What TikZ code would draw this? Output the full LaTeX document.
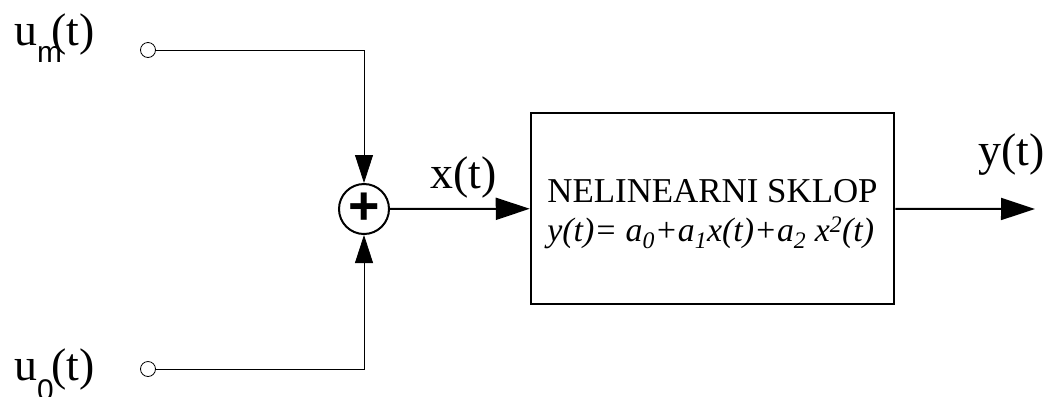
\documentclass[tikz,border=0pt]{standalone}
\usepackage{fontspec}
\setmainfont{Liberation Serif}
\newfontfamily\subsans{Liberation Sans}
\usetikzlibrary{arrows.meta}

\begin{document}
\begin{tikzpicture}[x=1bp,y=-1bp,
  wire/.style={black, line width=0.8bp},
  thick wire/.style={black, line width=2bp},
  tip/.style={-{Triangle[length=28bp,width=18bp]}},
  big tip/.style={-{Triangle[length=34bp,width=22bp]}},
  term/.style={circle, draw, line width=0.8bp, fill=white, inner sep=0pt, minimum size=15bp},
  lbl/.style={font=\fontsize{46}{50}\selectfont, inner sep=0pt},
  boxtext/.style={align=left, inner sep=0pt, font=\fontsize{35}{39}\selectfont}]
  \useasboundingbox (0,0) rectangle (1050,396);
  % inputs
  \node[term] (um) at (148,50) {};
  \node[term] (uo) at (148,369) {};
  \node[lbl, anchor=base west] (umlbl) at (14,45)
    {u\makebox[14bp][l]{\raisebox{-17bp}{\subsans\fontsize{30}{30}\selectfont m}}(t)};
  \node[lbl, anchor=base west] (uolbl) at (14,380)
    {u\makebox[14bp][l]{\raisebox{-20bp}{\subsans\fontsize{30}{30}\selectfont 0}}(t)};
  % adder and block
  \node[circle, draw, line width=2bp, minimum size=50bp, inner sep=0pt,
    font=\subsans\bfseries\fontsize{54}{54}\selectfont] (sum) at (364,209) {+};
  \node[draw, line width=2.5bp, minimum width=363bp, minimum height=191bp] (blk) at (712.5,208.5) {};
  \node[boxtext] (blktxt) at ([yshift=-6bp]blk.center)
    {NELINEARNI SKLOP\\{\fontsize{34}{39}\selectfont\itshape y(t)= a\textsubscript{0}+a\textsubscript{1}x(t)+a\textsubscript{2} x\textsuperscript{2}(t)}};
  \coordinate (out) at (1035,209);
  \node[lbl, anchor=base west] (xlbl) at (430,188) {x(t)};
  \node[lbl, anchor=base west] (ylbl) at (978,165) {y(t)};
  % connections
  \draw[wire, tip] (um) -| (sum);
  \draw[wire, tip] (uo) -| (sum);
  \draw[thick wire, big tip] (sum) -- (blk);
  \draw[thick wire, big tip] (blk) -- (out);
\end{tikzpicture}
\end{document}
